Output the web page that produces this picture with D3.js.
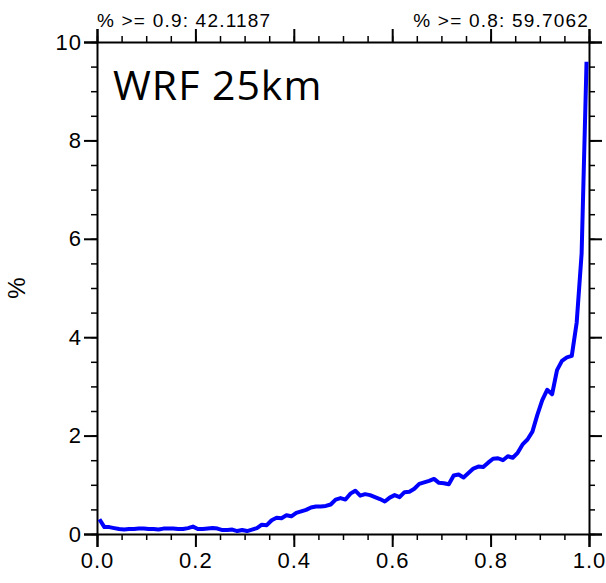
<!DOCTYPE html>
<html>
<head>
<meta charset="utf-8">
<script src="https://cdn.jsdelivr.net/npm/d3@7"></script>
<style>
  body { margin: 0; background: #fff; }
  .axis text { font-family: "Liberation Sans", Arial, sans-serif; font-size: 22px; letter-spacing: 1px; fill: #000; }
  .axis path, .axis line { stroke: #000; }
</style>
</head>
<body>
<div id="chart"></div>
<script>
// Chart data: percent of points per bin (bin centres 0.005 .. 0.995)
var binCenters = d3.range(100).map(i => +(0.005 + i * 0.01).toFixed(3));
var percents = [
  0.30, 0.14, 0.14, 0.12, 0.10, 0.09, 0.10, 0.10, 0.11, 0.11,
  0.10, 0.10, 0.09, 0.11, 0.11, 0.11, 0.10, 0.10, 0.12, 0.15,
  0.10, 0.10, 0.11, 0.12, 0.11, 0.08, 0.08, 0.09, 0.06, 0.08,
  0.06, 0.09, 0.12, 0.19, 0.18, 0.28, 0.33, 0.32, 0.38, 0.36,
  0.43, 0.46, 0.49, 0.54, 0.56, 0.56, 0.57, 0.60, 0.70, 0.73,
  0.70, 0.82, 0.88, 0.78, 0.81, 0.79, 0.75, 0.71, 0.66, 0.74,
  0.79, 0.75, 0.85, 0.86, 0.92, 1.02, 1.05, 1.08, 1.12, 1.04,
  1.03, 1.01, 1.19, 1.21, 1.15, 1.24, 1.33, 1.37, 1.36, 1.45,
  1.53, 1.54, 1.50, 1.58, 1.55, 1.65, 1.82, 1.92, 2.08, 2.42,
  2.72, 2.93, 2.84, 3.33, 3.52, 3.59, 3.62, 4.30, 5.70, 9.60
];
var xTicks = [0, 0.2, 0.4, 0.6, 0.8, 1.0];
var yTicks = [0, 2, 4, 6, 8, 10];
var title = "WRF 25km";
var leftNote = "% >= 0.9: 42.1187";
var rightNote = "% >= 0.8: 59.7062";

var svgWidth = 606;
var svgHeight = 583;
var margin = { top: 42, right: 17, bottom: 49, left: 97 };
var chartWidth = svgWidth - margin.left - margin.right;
var chartHeight = svgHeight - margin.top - margin.bottom;

var svg = d3.select("#chart")
  .append("svg")
  .attr("width", svgWidth)
  .attr("height", svgHeight);

var g = svg.append("g")
  .attr("transform", `translate(${margin.left}, ${margin.top})`);

var xScale = d3.scaleLinear().domain([0, 1]).range([0, chartWidth]);
var yScale = d3.scaleLinear().domain([0, 10]).range([chartHeight, 0]);

var xMinor = d3.range(0, 1.0001, 0.05);
var yMinor = d3.range(0, 10.0001, 0.5);

// minor ticks on all four sides
function minor(axis, ticks) {
  return axis.tickValues(ticks).tickSize(6).tickFormat("");
}
g.append("g").attr("class", "axis minor")
  .attr("transform", `translate(0, ${chartHeight})`)
  .call(minor(d3.axisBottom(xScale), xMinor));
g.append("g").attr("class", "axis minor")
  .call(minor(d3.axisTop(xScale), xMinor));
g.append("g").attr("class", "axis minor")
  .call(minor(d3.axisLeft(yScale), yMinor));
g.append("g").attr("class", "axis minor")
  .attr("transform", `translate(${chartWidth}, 0)`)
  .call(minor(d3.axisRight(yScale), yMinor));
g.selectAll(".minor line").attr("stroke-width", 1.5).attr("stroke", "#333");
g.selectAll(".minor path").remove();

// major ticks
var bottomAxis = d3.axisBottom(xScale).tickValues(xTicks).tickSize(13).tickPadding(5)
  .tickFormat(d3.format(".1f"));
var leftAxis = d3.axisLeft(yScale).tickValues(yTicks).tickSize(13).tickPadding(2)
  .tickFormat(d3.format("d"));

g.append("g").attr("class", "axis")
  .attr("transform", `translate(0, ${chartHeight})`)
  .call(bottomAxis);
g.append("g").attr("class", "axis")
  .call(leftAxis);
g.append("g").attr("class", "axis")
  .call(d3.axisTop(xScale).tickValues(xTicks).tickSize(13).tickFormat(""));
g.append("g").attr("class", "axis")
  .attr("transform", `translate(${chartWidth}, 0)`)
  .call(d3.axisRight(yScale).tickValues(yTicks).tickSize(13).tickFormat(""));

g.selectAll(".axis:not(.minor) line").attr("stroke-width", 2);
g.selectAll(".axis path").attr("stroke-width", 2);

// curve
var line = d3.line()
  .x((d, i) => xScale(binCenters[i]))
  .y(d => yScale(d));

g.append("path")
  .datum(percents)
  .attr("fill", "none")
  .attr("stroke", "#0000ff")
  .attr("stroke-width", 4)
  .attr("stroke-linejoin", "round")
  .attr("d", line);

// y label
svg.append("text")
  .attr("transform", `translate(25, ${margin.top + chartHeight / 2}) rotate(-90)`)
  .attr("text-anchor", "middle")
  .attr("font-family", "Liberation Sans, Arial, sans-serif")
  .attr("font-size", 24)
  .text("%");

// notes above the plot
svg.append("text")
  .attr("x", margin.left)
  .attr("y", 27)
  .attr("font-family", "Liberation Sans, Arial, sans-serif")
  .attr("font-size", 19)
  .attr("letter-spacing", 1.2)
  .text(leftNote);
svg.append("text")
  .attr("x", margin.left + chartWidth)
  .attr("y", 27)
  .attr("text-anchor", "end")
  .attr("font-family", "Liberation Sans, Arial, sans-serif")
  .attr("font-size", 19)
  .attr("letter-spacing", 1.2)
  .text(rightNote);

// title inside the plot
g.append("text")
  .attr("x", 16)
  .attr("y", 58)
  .attr("font-family", "Open Sans, sans-serif")
  .attr("font-size", 41)
  .attr("letter-spacing", 1)
  .text(title);
</script>
</body>
</html>
